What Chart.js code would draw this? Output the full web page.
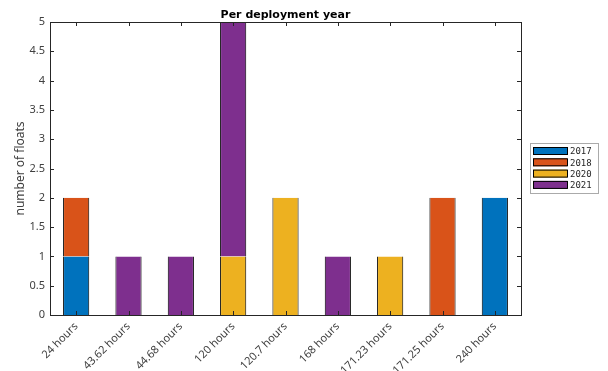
<!DOCTYPE html>
<html>
<head>
<meta charset="utf-8">
<script src="https://cdn.jsdelivr.net/npm/chart.js@4"></script>
<style>
  html, body { margin: 0; padding: 0; background: #fff; }
  #wrap { width: 608px; height: 371px; }
</style>
</head>
<body>
<div id="wrap"><canvas id="chart-1"></canvas></div>
<script>
const categories = ["24 hours", "43.62 hours", "44.68 hours", "120 hours", "120.7 hours",
  "168 hours", "171.23 hours", "171.25 hours", "240 hours"];
const years = ["2017", "2018", "2020", "2021"];
const floats2017 = [1, 0, 0, 0, 0, 0, 0, 0, 2];
const floats2018 = [1, 0, 0, 0, 0, 0, 0, 2, 0];
const floats2020 = [0, 0, 0, 1, 2, 0, 1, 0, 0];
const floats2021 = [0, 1, 1, 4, 0, 1, 0, 0, 0];
const colors = ["#0072BD", "#D95319", "#EDB120", "#7E2F8E"];

const series = [floats2017, floats2018, floats2020, floats2021];
const ink = "#262626";
const labelInk = "#404040";

// box, inward ticks, title and legend
const matlabAxes = {
  id: "matlabAxes",
  afterDraw(chart) {
    const { ctx, chartArea: a, scales } = chart;
    ctx.save();
    ctx.strokeStyle = ink;
    ctx.lineWidth = 1;
    ctx.beginPath();
    scales.y.ticks.forEach(t => {
      const py = Math.round(scales.y.getPixelForValue(t.value)) + 0.5;
      ctx.moveTo(a.left, py); ctx.lineTo(a.left + 4, py);
      ctx.moveTo(a.right, py); ctx.lineTo(a.right - 4, py);
    });
    categories.forEach((c, i) => {
      const px = Math.round(scales.x.getPixelForValue(i)) + 0.5;
      ctx.moveTo(px, a.bottom); ctx.lineTo(px, a.bottom - 4);
      ctx.moveTo(px, a.top); ctx.lineTo(px, a.top + 4);
    });
    ctx.stroke();
    ctx.strokeRect(Math.round(a.left) + 0.5, Math.round(a.top) + 0.5,
      Math.round(a.right - a.left), Math.round(a.bottom - a.top));

    ctx.fillStyle = "#000";
    ctx.font = "bold 11px 'DejaVu Sans'";
    ctx.textAlign = "center";
    ctx.textBaseline = "bottom";
    ctx.fillText("Per deployment year", (a.left + a.right) / 2, a.top - 1);

    // legend
    const lx = 530, ly = 143, lw = 68, lh = 50;
    ctx.fillStyle = "#fff";
    ctx.fillRect(lx, ly, lw, lh);
    ctx.strokeStyle = "#aaa";
    ctx.strokeRect(lx + 0.5, ly + 0.5, lw, lh);
    ctx.font = "9px 'DejaVu Sans Mono'";
    ctx.textAlign = "left";
    ctx.textBaseline = "middle";
    chart.data.datasets.forEach((ds, i) => {
      const y = ly + 8 + i * 11.3;
      ctx.fillStyle = ds.backgroundColor;
      ctx.fillRect(lx + 3, y - 4, 34, 8);
      ctx.strokeStyle = "#000";
      ctx.strokeRect(lx + 3.5, y - 3.5, 34, 7);
      ctx.fillStyle = ink;
      ctx.fillText(ds.label, lx + 40, y + 1);
    });
    ctx.restore();
  }
};

const ctx1 = document.getElementById("chart-1").getContext("2d");
const myChart = new Chart(ctx1, {
  type: "bar",
  data: {
    labels: categories,
    datasets: years.map((y, i) => ({
      label: y,
      data: series[i],
      backgroundColor: colors[i],
      borderColor: "#000",
      borderWidth: { left: 1, right: 1, top: 0, bottom: 0 },
      borderSkipped: false,
      barPercentage: 0.5,
      categoryPercentage: 1
    }))
  },
  options: {
    responsive: true,
    maintainAspectRatio: false,
    animation: false,
    layout: { padding: { left: 0, right: 87, top: 22, bottom: 0 } },
    plugins: {
      legend: { display: false },
      title: { display: false },
      tooltip: { enabled: false }
    },
    scales: {
      x: {
        stacked: true,
        grid: { display: false, drawTicks: false },
        border: { display: false },
        ticks: {
          color: labelInk,
          font: { family: "Noto Sans", size: 11 },
          minRotation: 45,
          maxRotation: 45,
          autoSkip: false,
          padding: 5
        },
        afterFit: s => { s.height = 56; }
      },
      y: {
        stacked: true,
        min: 0,
        max: 5,
        grid: { display: false, drawTicks: false },
        border: { display: false },
        ticks: {
          stepSize: 0.5,
          color: labelInk,
          font: { family: "Noto Sans", size: 11 },
          padding: 5,
          callback: v => String(v)
        },
        title: {
          display: true,
          text: "number of floats",
          color: labelInk,
          font: { family: "Noto Sans", size: 12 },
          padding: { top: 13, bottom: 0 }
        },
        afterFit: s => { s.width = 50; }
      }
    }
  },
  plugins: [matlabAxes]
});
</script>
</body>
</html>
